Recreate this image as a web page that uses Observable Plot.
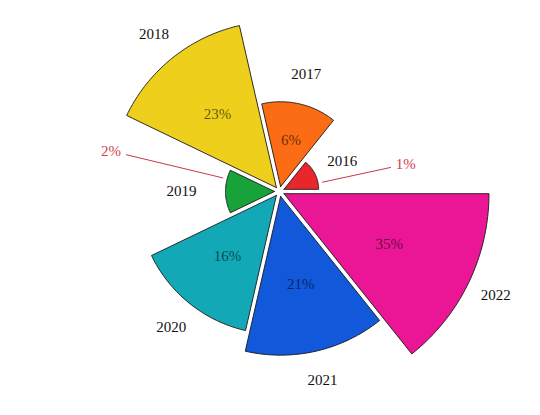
<!DOCTYPE html>
<html>
<head>
<meta charset="utf-8">
<script src="https://cdn.jsdelivr.net/npm/d3@7"></script>
<script src="https://cdn.jsdelivr.net/npm/@observablehq/plot@0.6"></script>
<style>
  body { margin: 0; background: #fff; }
  #chart svg { display: block; }
</style>
</head>
<body>
<div id="chart"></div>
<script>
const years = [2016, 2017, 2018, 2019, 2020, 2021, 2022];
const shares = [1, 6, 23, 2, 16, 21, 35];
const colors = ["#e8262b", "#fb6c14", "#edcf1c", "#17a23a", "#13a8b6", "#1258da", "#ea1695"];

// polar area: equal angles, area ~ share, so radius = sqrt(share)
const k = 34.65;            // px per unit of sqrt(share)
const cx = 279, cy = 191;   // centre in px
const W = 540, H = 415;
const step = 2 * Math.PI / years.length;
const explode = 5 / k;
const rad = deg => deg * Math.PI / 180;

const slices = years.map((year, i) => {
  const a0 = i * step, a1 = (i + 1) * step, mid = (a0 + a1) / 2;
  const r = Math.sqrt(shares[i]);
  const ox = explode * Math.cos(mid), oy = explode * Math.sin(mid);
  const pts = [{x: ox, y: oy}];
  const n = 48;
  for (let j = 0; j <= n; j++) {
    const a = a0 + (a1 - a0) * j / n;
    pts.push({x: ox + r * Math.cos(a), y: oy + r * Math.sin(a)});
  }
  pts.push({x: ox, y: oy});
  return {year, share: shares[i], color: colors[i], mid, r, pts};
});

const yearLabels = slices.map(s => {
  const d = s.r + explode + (s.year === 2019 ? 44 : 30) / k;
  return {text: String(s.year), x: d * Math.cos(s.mid), y: d * Math.sin(s.mid)};
});

const inside = slices.filter(s => s.share >= 5).map(s => {
  const d = 0.58 * (s.r + explode);
  return {text: s.share + "%", x: d * Math.cos(s.mid), y: d * Math.sin(s.mid)};
});

// small slices get a callout outside
const reach = {2016: 114, 2019: 158};
const callouts = slices.filter(s => s.share < 5).map(s => {
  const a = s.mid - rad(13.5);
  const r0 = s.r + explode + 4 / k, r1 = reach[s.year] / k, r2 = (reach[s.year] + 5) / k;
  return {
    text: s.share + "%", right: Math.cos(a) > 0,
    x1: r0 * Math.cos(a), y1: r0 * Math.sin(a),
    x2: r1 * Math.cos(a), y2: r1 * Math.sin(a),
    tx: r2 * Math.cos(a), ty: r2 * Math.sin(a) + 2 / k
  };
});

const font = "'Liberation Serif', 'DejaVu Serif', serif";
const calloutText = (data, anchor) => Plot.text(data, {
  x: "tx", y: "ty", text: "text", textAnchor: anchor, fill: "#cf3d4e", fontSize: 15
});

const chart = Plot.plot({
  width: W,
  height: H,
  margin: 0,
  x: {domain: [-cx / k, (W - cx) / k], axis: null},
  y: {domain: [-(H - cy) / k, cy / k], axis: null},
  style: {fontFamily: font, fontSize: "15px", background: "#fff"},
  marks: [
    ...slices.map(s => Plot.line(s.pts, {
      x: "x", y: "y", fill: s.color, stroke: "#1a1a1a", strokeWidth: 0.9, strokeLinejoin: "miter"
    })),
    Plot.text(yearLabels, {x: "x", y: "y", text: "text", fill: "#111", fontSize: 15}),
    Plot.text(inside, {x: "x", y: "y", text: "text", fill: "#000", fillOpacity: 0.6, fontSize: 15}),
    Plot.link(callouts, {x1: "x1", y1: "y1", x2: "x2", y2: "y2", stroke: "#c8394b", strokeWidth: 1}),
    calloutText(callouts.filter(d => d.right), "start"),
    calloutText(callouts.filter(d => !d.right), "end")
  ]
});

document.querySelector("#chart").append(chart);
</script>
</body>
</html>
